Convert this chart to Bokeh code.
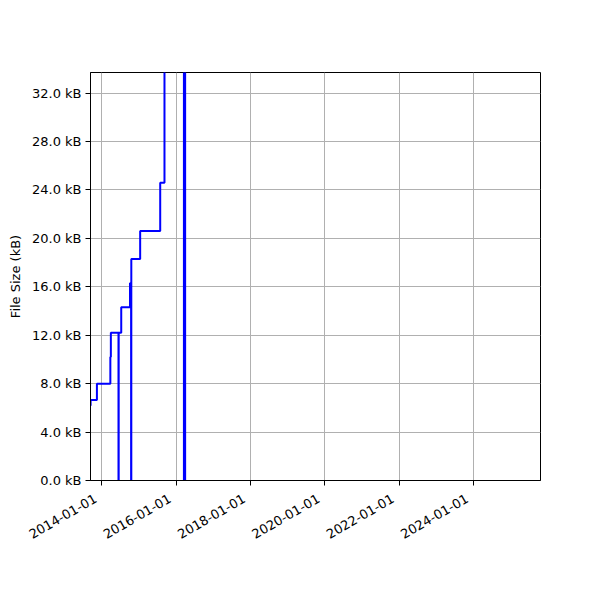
import math

import pandas as pd
from bokeh.plotting import figure
from bokeh.models import (Range1d, FixedTicker, DatetimeTickFormatter,
                          PrintfTickFormatter, ColumnDataSource, LinearAxis,
                          CustomJSTickFormatter, CustomLabelingPolicy)
from bokeh.embed import file_html
from bokeh.resources import INLINE

# ---- data ----
dates = ["2013-09-11", "2013-09-12", "2013-11-13", "2014-03-25", "2014-03-30",
         "2014-06-13", "2014-06-15", "2014-07-10", "2014-10-04", "2014-10-15",
         "2014-10-17", "2015-01-12", "2015-07-28", "2015-09-08", "2016-03-17",
         "2016-03-29", "2016-06-01"]
sizes_kb = [6.2, 6.65, 8.0, 10.2, 12.2,
            0.0, 12.2, 14.3, 16.3, 0.0,
            18.3, 20.6, 24.6, 48.0, 0.0,
            48.0, 48.0]

x_start = "2013-09-11"
x_end = "2025-10-20"
y_max_kb = 33.7

x_tick_dates = ["2014-01-01", "2016-01-01", "2018-01-01", "2020-01-01",
                "2022-01-01", "2024-01-01"]
x_tick_labels = ["2014-01-01", "2016-01-01", "2018-01-01", "2020-01-01",
                 "2022-01-01", "2024-01-01"]
y_ticks_kb = [0, 4, 8, 12, 16, 20, 24, 28, 32]

y_label = "File Size (kB)"

# ---- figure ----
def ms(d):
    return pd.Timestamp(d).value / 1e6

DAY_MS = 86400000.0
label_shift_ms = -62 * DAY_MS   # moves rotated labels so they end at the tick

src = ColumnDataSource(dict(x=pd.to_datetime(dates), y=sizes_kb))

p = figure(width=592, height=592, x_axis_type="datetime",
           output_backend="svg", toolbar_location=None,
           x_range=Range1d(ms(x_start), ms(x_end)),
           y_range=Range1d(0, y_max_kb))
p.min_border_left = 90
p.min_border_right = 52
p.min_border_top = 72
p.min_border_bottom = 112
p.background_fill_color = "white"
p.border_fill_color = "white"
p.outline_line_color = "black"
p.outline_line_width = 1

p.step("x", "y", source=src, mode="after", line_color="#0000ff", line_width=2)

xax = p.xaxis[0]
yax = p.yaxis[0]
xax.ticker = FixedTicker(ticks=[ms(d) for d in x_tick_dates])
xax.formatter = DatetimeTickFormatter(days="%Y-%m-%d", months="%Y-%m-%d",
                                      years="%Y-%m-%d")
yax.ticker = FixedTicker(ticks=y_ticks_kb)
yax.formatter = PrintfTickFormatter(format="%.1f kB")
yax.axis_label = y_label
yax.axis_label_text_font_style = "normal"
yax.axis_label_standoff = 6

for ax in (xax, yax):
    ax.major_label_text_font = "DejaVu Sans"
    ax.major_label_text_font_size = "13px"
    ax.major_label_text_color = "black"
    ax.axis_label_text_font = "DejaVu Sans"
    ax.axis_label_text_font_size = "13px"
    ax.axis_label_text_color = "black"
    ax.axis_line_color = "black"
    ax.major_tick_line_color = "black"
    ax.major_tick_out = 5
    ax.major_tick_in = 0
    ax.minor_tick_line_color = None
    ax.major_label_standoff = 4
# the tick axis shows marks only; labels come from a second, label-only axis
xax.major_label_text_font_size = "0px"
xax.major_label_standoff = 0
xax.major_label_policy = CustomLabelingPolicy(code="""
    for (let i = 0; i < indices.size; i++) indices.unset(i);
    return indices;
""")

shifted = [ms(d) + label_shift_ms for d in x_tick_dates]
lab_ax = LinearAxis(
    ticker=FixedTicker(ticks=shifted),
    formatter=CustomJSTickFormatter(args=dict(tvals=shifted, labs=x_tick_labels), code="""
        let best = 0, bd = Infinity;
        for (let i = 0; i < tvals.length; i++) {
            const dd = Math.abs(tvals[i] - tick);
            if (dd < bd) { bd = dd; best = i; }
        }
        return labs[best];
    """),
    major_label_orientation=math.pi / 6,
    axis_line_color=None, major_tick_line_color=None, minor_tick_line_color=None,
    major_tick_out=0, major_tick_in=0, major_label_standoff=12,
    major_label_text_font="DejaVu Sans", major_label_text_font_size="13px",
    major_label_text_color="black")
p.add_layout(lab_ax, "below")

p.xgrid.grid_line_color = "#b0b0b0"
p.ygrid.grid_line_color = "#b0b0b0"
p.xgrid.grid_line_width = 1
p.ygrid.grid_line_width = 1

open("out.html", "w").write(file_html(p, INLINE))
